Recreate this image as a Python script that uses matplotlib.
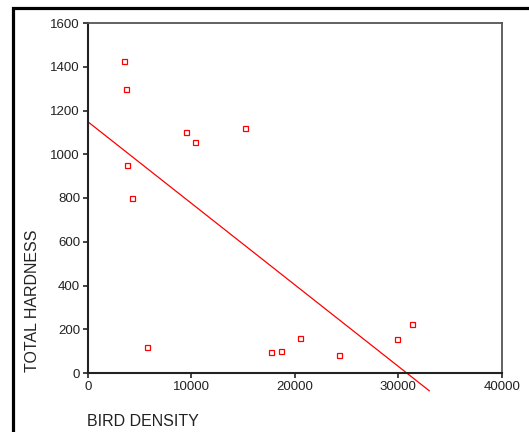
import numpy as np
import matplotlib
matplotlib.use('Agg')
import matplotlib.pyplot as plt
from matplotlib.patches import Rectangle

plt.rcParams['font.family'] = ['Liberation Sans', 'DejaVu Sans']

# bird density vs total hardness
bird_density = [3536, 3670, 3800, 4313, 5700, 9468, 10338, 15233,
                17681, 18680, 20548, 24250, 29887, 31336]
total_hardness = [1426, 1300, 949, 801, 120, 1103, 1056, 1120,
                  96, 101, 158, 84, 154, 222]
x_ticks = [0, 10000, 20000, 30000, 40000]
y_ticks = [0, 200, 400, 600, 800, 1000, 1200, 1400, 1600]

W, H = 529, 432
fig = plt.figure(figsize=(W / 100, H / 100), dpi=100)
ax = fig.add_axes([87.7 / W, 59 / H, 414 / W, 350 / H])

ax.plot(bird_density, total_hardness, 's', ms=3.6, mfc='white',
        mec='#ff0000', mew=0.9, zorder=3)

# least squares fit line, SPSS style running past the axis
slope, icpt = np.polyfit(bird_density, total_hardness, 1)
xs = np.array([0, 33000])
ax.plot(xs, icpt + slope * xs, color='#ff0000', lw=0.9, clip_on=False)

ax.set_xlim(0, 40000)
ax.set_ylim(0, 1600)
ax.set_xticks(x_ticks)
ax.set_yticks(y_ticks)
ax.tick_params(direction='out', length=3.5, width=1.2, color='#222222',
               labelsize=9.5, labelcolor='#222222', pad=2)

for s in ['left', 'bottom']:
    ax.spines[s].set_linewidth(1.5)
    ax.spines[s].set_color('#222222')
for s in ['top', 'right']:
    ax.spines[s].set_linewidth(1.3)
    ax.spines[s].set_color('#555555')

fig.text(33 / W, 60 / H, 'TOTAL HARDNESS', rotation=90, ha='center',
         va='bottom', fontsize=11.5, color='#222222')
fig.text(87 / W, 3 / H, 'BIRD DENSITY', ha='left', va='bottom',
         fontsize=11.5, color='#222222')

# outer frame, cut by the right and bottom edges
fig.add_artist(Rectangle((13 / W, -0.1), 1.2, (H - 8) / H + 0.1,
                         transform=fig.transFigure, fill=False,
                         lw=2.3, ec='black'))

fig.savefig('out.png', dpi=100)
